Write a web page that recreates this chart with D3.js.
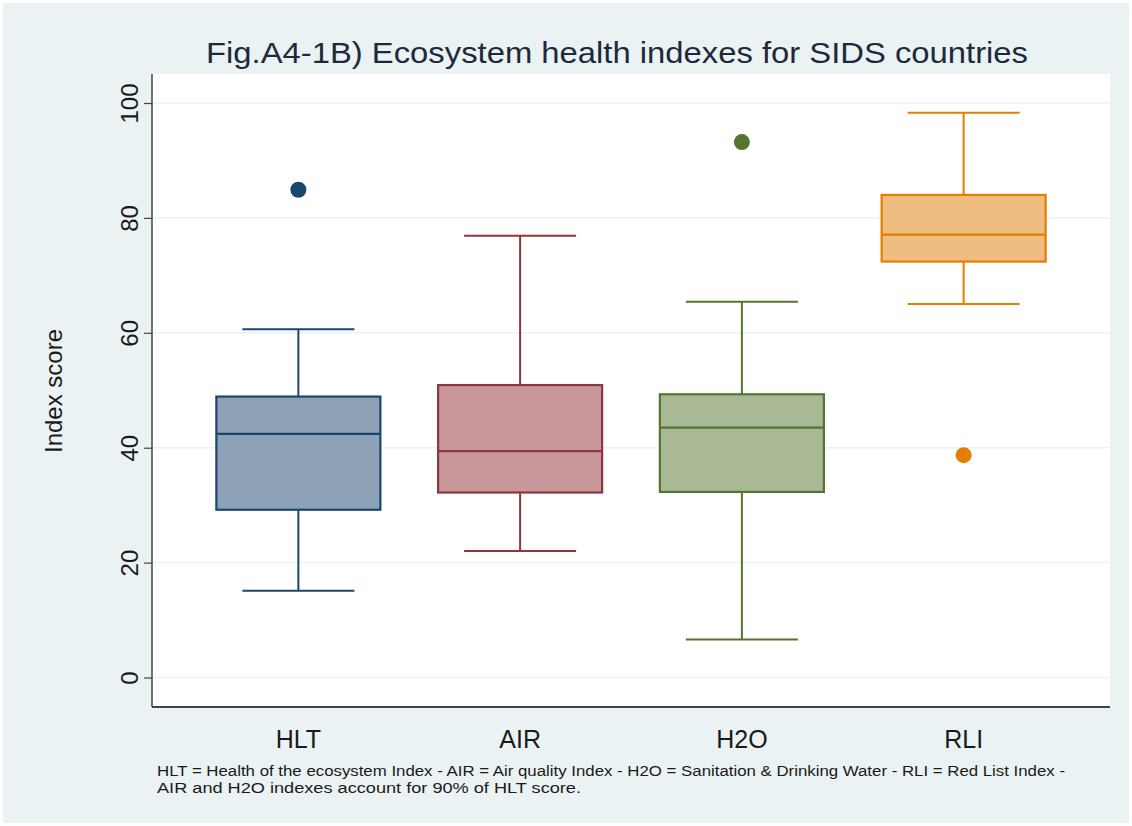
<!DOCTYPE html>
<html>
<head>
<meta charset="utf-8">
<script src="https://cdn.jsdelivr.net/npm/d3@7"></script>
<style>
  body { margin: 0; background: #fff; }
  svg { display: block; font-family: "Liberation Sans", Arial, sans-serif; }
</style>
</head>
<body>
<svg id="chart" width="1132" height="826"></svg>
<script>
// data
const categories = ["HLT", "AIR", "H2O", "RLI"];
const whiskerLow = [15.1, 22.0, 6.6, 65.0];
const q1 = [29.2, 32.2, 32.3, 72.4];
const median = [42.4, 39.4, 43.5, 77.1];
const q3 = [48.9, 50.9, 49.3, 84.0];
const whiskerHigh = [60.6, 76.9, 65.4, 98.3];
const outliers = [[84.9], [], [93.2], [38.7]];
const yTicks = [0, 20, 40, 60, 80, 100];

const strokeColors = ["#1a476f", "#90353b", "#55752f", "#e37e00"];
const fillColors = ["#8ea2b7", "#c8979b", "#aab995", "#f0bd80"];

let svg = d3.select("#chart");
let W = 1132, H = 826;
let plotL = 152, plotR = 1110, plotT = 74, plotB = 707;

svg.append("rect").attr("width", W).attr("height", H).attr("fill", "#fff");
svg.append("rect").attr("x", 3).attr("y", 3).attr("width", W - 6).attr("height", H - 6).attr("fill", "#eaf2f3");
svg.append("rect").attr("x", plotL).attr("y", plotT)
    .attr("width", plotR - plotL).attr("height", plotB - plotT).attr("fill", "#fff");

let x = d3.scalePoint().domain(categories).range([plotL, plotR]).padding(0.66);
let y = d3.scaleLinear().domain([0, 100]).range([677.5, 103]);

// grid
svg.append("g").selectAll("line").data(yTicks).join("line")
    .attr("x1", plotL).attr("x2", plotR)
    .attr("y1", d => y(d)).attr("y2", d => y(d))
    .attr("stroke", "#eaf2f3").attr("stroke-width", 1.5);

// y axis
let yAxis = svg.append("g").attr("transform", `translate(${plotL},0)`)
    .call(d3.axisLeft(y).tickValues(yTicks).tickSize(8));
yAxis.select(".domain").attr("d", `M0,${plotT}V${plotB}`).attr("stroke", "#444").attr("stroke-width", 1.5);
yAxis.selectAll(".tick line").attr("stroke", "#444").attr("stroke-width", 1.2);
yAxis.selectAll(".tick text")
    .attr("font-size", 24).attr("fill", "#1a1a1a")
    .attr("x", 0).attr("y", 0).attr("dy", 0)
    .attr("transform", "translate(-14,0) rotate(-90)")
    .attr("text-anchor", "middle");

// x axis
svg.append("line").attr("x1", plotL).attr("x2", plotR).attr("y1", plotB).attr("y2", plotB)
    .attr("stroke", "#444").attr("stroke-width", 2);
svg.append("g").selectAll("text").data(categories).join("text")
    .attr("x", d => x(d)).attr("y", 748)
    .attr("text-anchor", "middle").attr("font-size", 25).attr("fill", "#1a1a1a")
    .text(d => d);

// boxes
let boxHalf = 82, capHalf = 56;
categories.forEach((c, i) => {
    let g = svg.append("g");
    let cx = x(c);
    g.append("line").attr("x1", cx).attr("x2", cx).attr("y1", y(whiskerLow[i])).attr("y2", y(q1[i]))
        .attr("stroke", strokeColors[i]).attr("stroke-width", 2);
    g.append("line").attr("x1", cx).attr("x2", cx).attr("y1", y(q3[i])).attr("y2", y(whiskerHigh[i]))
        .attr("stroke", strokeColors[i]).attr("stroke-width", 2);
    [whiskerLow[i], whiskerHigh[i]].forEach(v => {
        g.append("line").attr("x1", cx - capHalf).attr("x2", cx + capHalf).attr("y1", y(v)).attr("y2", y(v))
            .attr("stroke", strokeColors[i]).attr("stroke-width", 2);
    });
    g.append("rect").attr("x", cx - boxHalf).attr("width", boxHalf * 2)
        .attr("y", y(q3[i])).attr("height", y(q1[i]) - y(q3[i]))
        .attr("fill", fillColors[i]).attr("stroke", strokeColors[i]).attr("stroke-width", 2.2);
    g.append("line").attr("x1", cx - boxHalf).attr("x2", cx + boxHalf).attr("y1", y(median[i])).attr("y2", y(median[i]))
        .attr("stroke", strokeColors[i]).attr("stroke-width", 2.2);
    g.selectAll("circle").data(outliers[i]).join("circle")
        .attr("cx", cx).attr("cy", d => y(d)).attr("r", 8)
        .attr("fill", strokeColors[i]);
});

// titles
svg.append("text").attr("x", 617).attr("y", 63).attr("text-anchor", "middle")
    .attr("font-size", 29).attr("fill", "#1e2a3a")
    .attr("textLength", 822).attr("lengthAdjust", "spacingAndGlyphs")
    .text("Fig.A4-1B)  Ecosystem health indexes for SIDS countries");

svg.append("text").attr("transform", "translate(62,391) rotate(-90)")
    .attr("text-anchor", "middle").attr("font-size", 24).attr("fill", "#1a1a1a")
    .text("Index score");

svg.append("text").attr("x", 157).attr("y", 776).attr("font-size", 15.5).attr("fill", "#1a1a1a")
    .attr("textLength", 908).attr("lengthAdjust", "spacingAndGlyphs")
    .text("HLT = Health of the ecosystem Index - AIR = Air quality Index - H2O = Sanitation & Drinking Water - RLI = Red List Index -");
svg.append("text").attr("x", 157).attr("y", 793).attr("font-size", 15.5).attr("fill", "#1a1a1a")
    .attr("textLength", 424).attr("lengthAdjust", "spacingAndGlyphs")
    .text("AIR and H2O indexes account for 90% of HLT score.");
</script>
</body>
</html>
